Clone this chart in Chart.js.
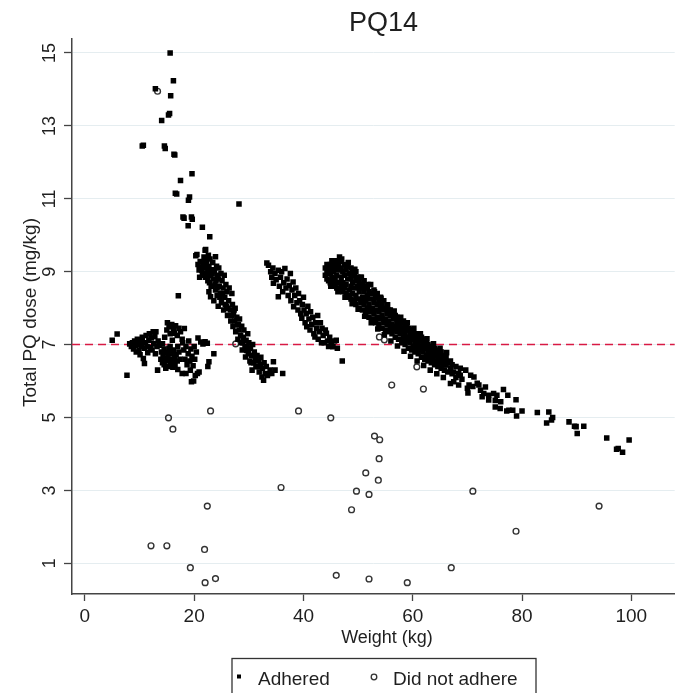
<!DOCTYPE html>
<html>
<head>
<meta charset="utf-8">
<title>PQ14</title>
<script src="https://cdn.jsdelivr.net/npm/chart.js@4.4.1/dist/chart.umd.min.js"></script>
<style>
  html, body { margin: 0; padding: 0; background: #fff; overflow: hidden; }
  canvas { display: block; }
</style>
</head>
<body>
<canvas id="chart" width="679" height="693"></canvas>
<script>
const weightTicks = [0, 20, 40, 60, 80, 100];
const doseTicks = [1, 3, 5, 7, 9, 11, 13, 15];
const targetDose = 7;

// [weight kg, total PQ dose mg/kg]
const adheredHigh = [
  [15.6, 15.0], [16.2, 14.24], [15.7, 13.83], [12.9, 14.02], [15.3, 13.3], [15.5, 13.34],
  [14.05, 13.15], [10.5, 12.45], [10.7, 12.47], [14.55, 12.45], [14.7, 12.38], [16.3, 12.22],
  [16.45, 12.2], [19.6, 11.69], [17.5, 11.5], [16.55, 11.15], [16.8, 11.13], [18.95, 10.96],
  [19.15, 11.05], [28.2, 10.86], [17.95, 10.5], [18.15, 10.47], [19.5, 10.5], [19.65, 10.44],
  [18.9, 10.26], [21.5, 10.22], [22.85, 9.96], [22.1, 9.61], [20.3, 9.44], [20.5, 9.47],
  [23.9, 9.41], [17.1, 8.34]
];

const adheredBand1 = [
  [5.0, 7.12], [5.9, 7.29], [7.7, 6.16],
  [8.2, 7.02], [8.5, 6.95], [8.7, 7.05], [8.9, 6.88], [9.1, 7.1], [9.3, 6.98], [9.4, 6.8],
  [9.6, 7.15], [9.8, 7.0], [9.9, 6.85], [10.1, 6.72], [10.2, 7.08], [10.4, 6.95], [10.5, 7.2],
  [10.7, 6.62], [10.9, 6.48], [10.9, 6.9], [11.1, 7.05], [11.2, 7.25], [11.4, 6.95], [11.5, 6.78],
  [11.7, 7.12], [11.8, 7.3], [12.0, 6.92], [12.2, 7.18], [12.3, 6.85], [12.5, 7.35], [12.6, 7.02],
  [12.8, 7.22], [12.9, 6.75], [13.0, 7.35], [13.2, 6.95], [13.3, 6.3], [13.4, 7.1], [13.6, 6.98],
  [13.9, 6.6], [14.0, 6.8], [14.2, 6.5], [14.3, 6.72], [14.5, 6.88], [14.5, 6.45], [14.7, 6.62],
  [14.8, 6.35], [14.9, 6.78], [15.0, 6.55], [15.2, 6.7], [15.3, 6.4], [15.4, 6.9], [15.5, 6.6],
  [15.7, 6.48], [15.8, 6.75], [16.0, 6.58], [16.1, 6.38], [16.2, 6.85], [16.4, 6.65], [16.5, 6.45],
  [16.7, 6.72], [16.9, 6.55], [17.0, 6.32], [17.2, 6.8], [17.4, 6.6], [17.0, 6.95], [15.6, 6.95],
  [14.2, 7.02],
  [14.6, 7.2], [15.0, 7.4], [15.1, 7.6], [15.4, 7.49], [15.6, 7.3], [15.9, 7.55], [16.2, 7.42],
  [16.4, 7.31], [16.6, 7.52], [16.9, 7.25], [17.2, 7.45], [17.5, 7.35], [18.2, 7.44], [17.8, 7.15],
  [16.0, 7.12],
  [17.8, 6.21], [17.9, 7.05], [18.1, 6.85], [18.3, 6.6], [18.5, 6.21], [18.5, 6.95], [18.7, 6.45],
  [18.9, 6.75], [19.0, 7.1], [19.2, 6.55], [19.3, 6.3], [19.4, 6.88], [19.5, 5.98], [19.6, 6.68],
  [19.8, 6.42], [19.9, 6.0], [20.0, 6.95], [20.1, 6.6], [20.2, 6.15], [20.4, 6.8], [20.6, 6.21],
  [20.7, 7.18], [20.9, 6.25],
  [21.2, 7.07], [21.6, 7.02], [22.0, 7.08], [22.4, 7.04], [22.7, 6.53], [22.5, 6.4], [23.6, 6.75]
];

const adheredBand2 = [
  [20.7, 9.2], [20.9, 9.05], [21.1, 9.28], [21.3, 9.12], [21.5, 8.95], [21.6, 9.25],
  [21.8, 9.4], [22.0, 9.59], [22.0, 9.1], [22.1, 8.85], [22.3, 9.3], [22.4, 8.95],
  [22.6, 9.45], [22.7, 8.45], [22.7, 9.15], [22.8, 8.7], [22.9, 9.35], [23.0, 8.31], [23.0, 8.9], [23.2, 9.05],
  [23.3, 8.6], [23.4, 9.25], [23.5, 8.8], [23.6, 8.2], [23.7, 9.0], [23.9, 8.5],
  [24.0, 8.75], [24.1, 9.15], [24.2, 8.35], [24.3, 8.9], [24.4, 8.05], [24.5, 9.1], [24.6, 8.6],
  [24.8, 8.4], [24.9, 8.95], [25.0, 8.15], [25.1, 8.75], [25.3, 8.55], [25.4, 7.95], [25.5, 8.9], [25.6, 8.3],
  [25.8, 8.65], [25.9, 8.05], [26.0, 8.45], [26.1, 7.8], [26.3, 8.2], [26.4, 8.55], [26.6, 7.95], [26.7, 7.65],
  [26.9, 8.4], [27.0, 8.1], [27.1, 7.5], [27.2, 7.85], [27.4, 7.65], [27.5, 8.0], [27.6, 7.35], [27.8, 7.75],
  [27.9, 7.55], [28.0, 7.15], [28.2, 7.4], [28.3, 7.7], [28.5, 7.25], [28.6, 7.05], [28.7, 7.5],
  [28.8, 6.85], [29.0, 7.2], [29.1, 7.4], [29.3, 6.95], [29.4, 6.66], [29.5, 7.12], [29.6, 6.84], [29.8, 7.3],
  [29.9, 6.75], [30.0, 7.05], [30.2, 6.55], [30.3, 6.9], [30.5, 6.7], [30.6, 6.3], [30.7, 7.0], [30.9, 6.5],
  [31.0, 6.8], [31.2, 6.6], [31.3, 6.4], [31.5, 6.7], [31.6, 6.39], [31.8, 6.55],
  [31.9, 6.25], [32.1, 6.45], [32.2, 6.65], [32.4, 6.11], [32.5, 6.35], [32.7, 6.02], [32.8, 6.5],
  [33.0, 6.2], [33.2, 6.4], [33.4, 6.15], [33.6, 6.21], [33.9, 6.3], [34.2, 6.21], [34.5, 6.53],
  [34.8, 6.3], [36.2, 6.21],
  [21.0, 8.85], [21.4, 9.05], [21.9, 8.9], [22.2, 9.2], [22.5, 8.75], [22.5, 9.0], [23.1, 8.6],
  [23.3, 8.95], [23.8, 8.65], [24.2, 8.55], [24.4, 8.8], [24.7, 8.3], [25.2, 8.4], [25.7, 8.1],
  [26.2, 8.0], [26.8, 7.8], [27.3, 7.95], [28.1, 7.55], [28.9, 7.05], [29.7, 6.95], [30.4, 6.5],
  [31.1, 6.7]
];

const adheredBand3 = [
  [33.3, 9.24], [33.6, 9.18], [34.0, 9.0], [34.2, 8.85], [34.4, 9.1], [34.5, 8.68], [34.8, 8.95],
  [35.0, 8.78], [35.4, 9.04], [35.4, 8.31], [35.6, 8.6], [35.8, 8.85], [36.0, 9.0], [36.2, 8.45],
  [36.4, 8.7], [36.6, 9.09], [36.8, 8.55], [37.0, 8.8], [37.2, 8.35], [37.4, 8.62], [37.6, 8.95],
  [37.7, 8.2], [37.9, 8.5], [38.1, 8.72], [38.2, 8.04], [38.4, 8.35], [38.6, 8.55], [38.8, 8.15],
  [39.0, 7.95], [39.1, 8.4], [39.3, 8.2], [39.5, 7.85], [39.7, 7.72], [39.8, 8.1], [40.0, 8.3],
  [40.1, 7.95], [40.3, 7.6], [40.5, 7.85], [40.6, 7.49], [40.8, 8.05], [41.0, 7.7], [41.2, 7.4],
  [41.3, 7.9], [41.5, 7.55], [41.7, 7.75], [41.9, 7.3], [42.1, 7.21], [42.2, 7.6], [42.4, 7.45],
  [42.6, 7.8], [42.7, 7.15], [42.9, 7.35], [43.1, 7.6], [43.3, 7.05], [43.4, 7.45], [43.6, 7.25],
  [43.8, 7.05], [44.0, 7.4], [44.2, 7.31], [44.4, 7.1], [44.6, 6.95], [44.8, 7.2], [45.1, 7.05],
  [45.4, 6.94], [45.7, 7.1], [46.0, 7.12], [46.2, 6.9], [47.1, 6.55]
];

// one row per weight: [weight, dose, dose, ...]
const adheredBand4 = [
  [44.0, 8.9, 9.1], [44.3, 8.8, 9.0, 9.2], [44.6, 8.75, 9.05], [44.9, 8.7, 8.95, 9.2],
  [45.0, 8.6], [45.2, 8.65, 8.85, 9.1, 9.3], [45.5, 8.7, 9.0, 9.25], [45.8, 8.6, 8.8, 9.15],
  [46.1, 8.55, 8.9, 9.3], [46.3, 8.45], [46.4, 8.7, 9.05, 9.2], [46.6, 9.4, 8.5],
  [46.9, 8.6, 8.85, 9.1, 9.28], [47.0, 9.35], [47.2, 8.45, 8.7, 9.0], [47.5, 8.55, 8.9, 9.2],
  [47.6, 8.3], [47.8, 8.4, 8.65, 9.05], [48.1, 8.3, 8.8, 9.15], [48.2, 9.25],
  [48.4, 8.35, 8.5, 8.95], [48.7, 8.25, 8.6, 8.85, 9.1], [48.9, 8.12], [49.0, 8.4, 8.7, 9.0],
  [49.3, 8.2, 8.55, 8.9], [49.4, 9.07], [49.6, 8.1, 8.35, 8.75, 9.0], [49.9, 8.25, 8.6, 8.85],
  [50.0, 7.97], [50.2, 8.0, 8.45, 8.7], [50.5, 8.15, 8.55, 8.85], [50.6, 8.85],
  [50.8, 7.95, 8.3, 8.65], [51.1, 8.1, 8.45, 8.75], [51.2, 7.78], [51.4, 7.85, 8.2, 8.6],
  [51.7, 8.0, 8.35, 8.55], [51.8, 8.65], [52.0, 7.75, 8.1, 8.45], [52.3, 7.9, 8.25, 8.65],
  [52.4, 7.6], [52.6, 7.7, 8.0, 8.4], [52.9, 7.85, 8.15, 8.5], [53.0, 8.45],
  [53.2, 7.6, 7.95, 8.3], [53.5, 7.75, 8.1, 8.4], [53.6, 7.43], [53.8, 7.55, 7.9, 8.2],
  [54.1, 7.7, 8.0, 8.3], [54.2, 8.27], [54.4, 7.45, 7.8, 8.1], [54.7, 7.6, 7.95, 8.2],
  [54.8, 7.27], [55.0, 7.4, 7.7, 8.0], [55.3, 7.55, 7.85, 8.05], [55.4, 8.09],
  [55.6, 7.35, 7.65, 7.95], [55.9, 7.5, 7.8, 7.95], [56.0, 7.1], [56.2, 7.3, 7.55, 7.85],
  [56.5, 7.4, 7.7, 7.9], [56.6, 7.92], [56.8, 7.2, 7.5, 7.8], [57.1, 7.35, 7.6, 7.75],
  [57.2, 6.96], [57.4, 7.15, 7.45, 7.7], [57.7, 7.3, 7.55, 7.65], [57.8, 7.75],
  [58.0, 7.05, 7.35, 7.6], [58.3, 7.2, 7.45, 7.65], [58.4, 6.82], [58.6, 7.0, 7.3, 7.55],
  [58.9, 7.1, 7.4, 7.5], [59.0, 7.6], [59.2, 6.9, 7.2, 7.45], [59.5, 7.05, 7.3, 7.4],
  [59.6, 6.68], [59.8, 6.85, 7.15, 7.35], [60.1, 6.95, 7.25, 7.4], [60.2, 7.45],
  [60.4, 6.8, 7.05, 7.3], [60.7, 6.9, 7.15, 7.25], [60.8, 6.55], [61.0, 6.75, 7.0, 7.3],
  [61.3, 6.85, 7.1, 7.2], [61.4, 7.3], [61.6, 6.65, 6.95, 7.2], [61.9, 6.8, 7.05, 7.15],
  [62.0, 6.43], [62.2, 6.6, 6.9, 7.1], [62.5, 6.7, 6.95, 7.05], [62.6, 7.16],
  [62.8, 6.55, 6.8, 7.0], [63.1, 6.65, 6.9, 6.95], [63.2, 6.3], [63.4, 6.5, 6.75, 6.95],
  [63.7, 6.6, 6.85], [63.8, 7.02], [64.0, 6.45, 6.7, 6.9], [64.3, 6.55, 6.8], [64.4, 6.2],
  [64.6, 6.4, 6.65, 6.85], [64.9, 6.5, 6.75], [65.0, 6.9], [65.2, 6.35, 6.6, 6.8], [65.5, 6.45, 6.7],
  [65.6, 6.1], [65.8, 6.3, 6.55], [66.1, 6.44, 6.65], [66.2, 6.78], [66.4, 6.25, 6.5],
  [66.9, 5.93, 6.35, 6.55], [67.2, 6.2, 6.45], [67.5, 6.25, 5.98], [67.9, 6.1, 6.4], [68.4, 5.89, 6.2],
  [68.7, 6.16, 6.35], [69.0, 6.05], [69.7, 6.3]
];

const adheredTail = [
  [70.0, 5.8], [70.1, 5.67], [70.3, 5.89], [70.6, 6.16], [71.2, 6.11], [71.0, 5.85], [71.8, 5.94],
  [72.1, 5.89], [72.4, 5.75], [73.0, 5.66], [73.3, 5.84], [72.7, 5.57], [73.9, 5.61], [73.9, 5.48],
  [74.8, 5.66], [75.1, 5.47], [75.1, 5.29], [75.4, 5.61], [76.0, 5.25], [76.1, 5.43], [76.6, 5.77],
  [77.2, 5.18], [77.4, 5.61], [77.6, 5.2], [78.3, 5.2], [78.9, 5.49], [79.0, 5.04], [80.0, 5.18],
  [82.8, 5.14], [84.9, 5.15], [85.4, 4.93], [85.6, 5.0], [84.5, 4.85], [88.6, 4.88], [89.6, 4.76],
  [89.9, 4.75], [91.3, 4.76], [90.1, 4.56], [95.5, 4.44], [97.3, 4.13], [97.6, 4.15], [98.4, 4.05],
  [99.6, 4.38]
];

const notAdhered = [
  [13.3, 13.95], [15.3, 4.99], [16.1, 4.68], [23.0, 5.18], [39.1, 5.18], [45.0, 4.99], [35.9, 3.08],
  [22.4, 2.57], [12.1, 1.48], [15.0, 1.48], [21.9, 1.38], [19.3, 0.88], [22.0, 0.47], [23.9, 0.58],
  [46.0, 0.67], [56.15, 5.89], [60.75, 6.39], [61.95, 5.78], [53.0, 4.49], [53.95, 4.39],
  [53.85, 3.87], [51.4, 3.48], [53.7, 3.28], [49.7, 2.98], [52.0, 2.89], [48.8, 2.47], [71.0, 2.98],
  [78.9, 1.88], [94.1, 2.57], [52.0, 0.57], [59.0, 0.47], [67.05, 0.88], [53.9, 7.21], [54.8, 7.13],
  [27.6, 7.02]
];

const toPoints = pairs => pairs.map(([x, y]) => ({ x, y }));
const rowsToPoints = rows => rows.flatMap(r => r.slice(1).map(d => ({ x: r[0], y: d })));

const adheredPoints = [
  ...toPoints(adheredHigh),
  ...toPoints(adheredBand1),
  ...toPoints(adheredBand2),
  ...toPoints(adheredBand3),
  ...rowsToPoints(adheredBand4),
  ...toPoints(adheredTail)
];
const notAdheredPoints = toPoints(notAdhered);

const FONT = '"Liberation Sans", Arial, Helvetica, sans-serif';
const TEXT = '#1f1f1f';
const AXIS = '#444';

const decor = {
  id: 'decor',
  beforeDatasetsDraw(chart) {
    // dashed reference line at the target dose
    const { ctx, chartArea, scales } = chart;
    const y = scales.y.getPixelForValue(targetDose);
    ctx.save();
    ctx.strokeStyle = '#d81a44';
    ctx.lineWidth = 1.5;
    ctx.setLineDash([8, 5]);
    ctx.beginPath();
    ctx.moveTo(chartArea.left, y);
    ctx.lineTo(chartArea.right, y);
    ctx.stroke();
    ctx.restore();
  },
  afterDraw(chart) {
    const { ctx, chartArea, scales } = chart;
    ctx.save();
    ctx.fillStyle = TEXT;

    // title
    ctx.font = '27px ' + FONT;
    ctx.textAlign = 'center';
    ctx.textBaseline = 'alphabetic';
    ctx.fillText('PQ14', 383.5, 30.5);

    // x tick labels
    ctx.font = '19px ' + FONT;
    weightTicks.forEach(v => {
      ctx.fillText(String(v), scales.x.getPixelForValue(v), 622);
    });

    // y tick labels, rotated
    ctx.font = '18px ' + FONT;
    doseTicks.forEach(v => {
      ctx.save();
      ctx.translate(54.5, scales.y.getPixelForValue(v));
      ctx.rotate(-Math.PI / 2);
      ctx.fillText(String(v), 0, 0);
      ctx.restore();
    });

    // axis titles
    ctx.font = '18px ' + FONT;
    ctx.fillText('Weight (kg)', 387, 643);
    ctx.save();
    ctx.font = '19px ' + FONT;
    ctx.translate(35.5, (chartArea.top + chartArea.bottom) / 2 - 4);
    ctx.rotate(-Math.PI / 2);
    ctx.fillText('Total PQ dose (mg/kg)', 0, 0);
    ctx.restore();

    // legend box
    ctx.strokeStyle = '#333';
    ctx.lineWidth = 1.3;
    ctx.strokeRect(232, 658.5, 304, 60);

    const sets = chart.data.datasets;
    ctx.fillStyle = '#000';
    ctx.fillRect(237, 674.5, 4, 4);
    ctx.beginPath();
    ctx.strokeStyle = sets[1].borderColor;
    ctx.lineWidth = 1.3;
    ctx.arc(374, 677, 2.8, 0, Math.PI * 2);
    ctx.stroke();

    ctx.fillStyle = TEXT;
    ctx.font = '19px ' + FONT;
    ctx.textAlign = 'left';
    ctx.fillText(sets[0].label, 258, 684.5);
    ctx.fillText(sets[1].label, 393, 684.5);
    ctx.restore();
  }
};

new Chart(document.getElementById('chart'), {
  type: 'scatter',
  data: {
    datasets: [
      {
        label: 'Adhered',
        data: adheredPoints,
        pointStyle: 'rect',
        pointRadius: 3.9,
        pointHoverRadius: 3.9,
        backgroundColor: '#000',
        borderWidth: 0
      },
      {
        label: 'Did not adhere',
        data: notAdheredPoints,
        pointStyle: 'circle',
        pointRadius: 2.9,
        pointHoverRadius: 2.9,
        borderWidth: 1.4,
        borderColor: '#333',
        backgroundColor: 'rgba(0,0,0,0)'
      }
    ]
  },
  options: {
    responsive: false,
    animation: false,
    layout: { padding: { top: 39, left: 0, right: 0, bottom: 0 } },
    plugins: {
      legend: { display: false },
      tooltip: { enabled: false }
    },
    scales: {
      x: {
        type: 'linear',
        min: -2.36,
        max: 107.94,
        afterBuildTicks: s => { s.ticks = weightTicks.map(v => ({ value: v })); },
        afterFit: s => { s.height = 99; },
        ticks: { display: false },
        grid: { drawOnChartArea: false, tickLength: 7, tickColor: AXIS, tickWidth: 1.3 },
        border: { color: AXIS, width: 1.5 }
      },
      y: {
        type: 'linear',
        min: 0.158,
        max: 15.384,
        afterBuildTicks: s => { s.ticks = doseTicks.map(v => ({ value: v })); },
        afterFit: s => { s.width = 72; },
        ticks: { display: false },
        grid: { color: '#e5edf0', lineWidth: 1, tickLength: 8, tickColor: AXIS, tickWidth: 1.3 },
        border: { color: AXIS, width: 1.5 }
      }
    }
  },
  plugins: [decor]
});
</script>
</body>
</html>
